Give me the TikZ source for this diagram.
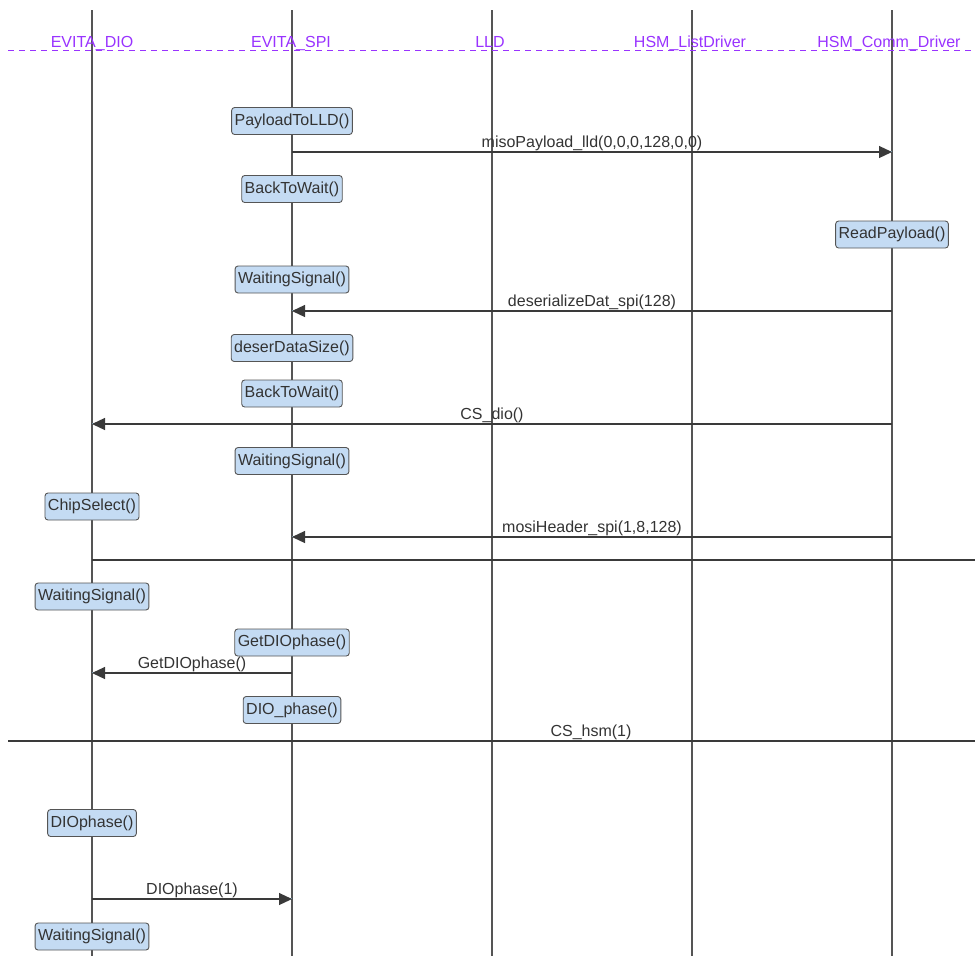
\documentclass[tikz,border=0pt]{standalone}
\usepackage{fontspec}
\setmainfont{Liberation Sans}
\usetikzlibrary{arrows.meta}
\definecolor{lifec}{HTML}{555555}
\definecolor{boxf}{HTML}{C4DBF3}
\definecolor{boxb}{HTML}{555555}
\definecolor{txt}{HTML}{333333}
\definecolor{hdrc}{HTML}{9933FF}
\definecolor{msgc}{HTML}{3A3A3A}
\definecolor{msghi}{HTML}{8DB6CF}
\tikzset{
  life/.style={draw=lifec, line width=1.3pt},
  act/.style={draw=boxb, fill=boxf, rounded corners=3pt, line width=0.9pt,
    minimum height=27pt, inner xsep=3pt, inner ysep=0pt,
    font=\fontsize{16}{18}\selectfont, text=txt},
  msg/.style={draw=msgc, line width=1.2pt,
    preaction={draw=msghi, line width=0.8pt, arrows=-, transform canvas={yshift=1pt}}},
  tip/.style={-{Triangle[length=13pt,width=12pt]}},
  lbl/.style={anchor=base, inner sep=0pt, text=txt, font=\fontsize{16}{18}\selectfont},
  hdr/.style={anchor=base, inner sep=0pt, text=hdrc, font=\fontsize{16}{18}\selectfont},
  hdrline/.style={draw=hdrc, line width=1pt, dash pattern=on 6pt off 5pt},
}
\begin{document}
\begin{tikzpicture}[x=1pt,y=-1pt]
\useasboundingbox (0,0) rectangle (975,956);
% lifelines
\coordinate (dioT) at (92,10);  \coordinate (dioB) at (92,956);
\coordinate (spiT) at (292,10); \coordinate (spiB) at (292,956);
\coordinate (lldT) at (492,10); \coordinate (lldB) at (492,956);
\coordinate (lstT) at (692,10); \coordinate (lstB) at (692,956);
\coordinate (comT) at (892,10); \coordinate (comB) at (892,956);
\draw[life] (dioT) -- (dioB);
\draw[life] (spiT) -- (spiB);
\draw[life] (lldT) -- (lldB);
\draw[life] (lstT) -- (lstB);
\draw[life] (comT) -- (comB);
% header
\coordinate (hl) at (8,50); \coordinate (hr) at (975,50);
\draw[hdrline] (hl) -- (hr);
\node[hdr] (hDIO) at (92,47) {EVITA\_DIO};
\node[hdr] (hSPI) at (291,47) {EVITA\_SPI};
\node[hdr] (hLLD) at (490,47) {LLD};
\node[hdr] (hLST) at (690,47) {HSM\_ListDriver};
\node[hdr] (hCOM) at (889,47) {HSM\_Comm\_Driver};
% activations
\node[act] (a1) at (292,121) {PayloadToLLD()};
\node[act] (a2) at (292,189) {BackToWait()};
\node[act] (a3) at (892,234.5) {ReadPayload()};
\node[act] (a4) at (292,279.5) {WaitingSignal()};
\node[act] (a5) at (292,348) {deserDataSize()};
\node[act] (a6) at (292,393.5) {BackToWait()};
\node[act] (a7) at (292,461) {WaitingSignal()};
\node[act] (a8) at (92,506.5) {ChipSelect()};
\node[act] (a9) at (92,596.5) {WaitingSignal()};
\node[act] (a10) at (292,642.5) {GetDIOphase()};
\node[act] (a11) at (292,710) {DIO\_phase()};
\node[act] (a12) at (92,823) {DIOphase()};
\node[act] (a13) at (92,936.5) {WaitingSignal()};
% message endpoints
\coordinate (m1a) at (292,152); \coordinate (m1b) at (892,152);
\coordinate (m2a) at (892,311); \coordinate (m2b) at (292,311);
\coordinate (m3a) at (892,424); \coordinate (m3b) at (92,424);
\coordinate (m4a) at (892,537); \coordinate (m4b) at (292,537);
\coordinate (m5a) at (92,560);  \coordinate (m5b) at (975,560);
\coordinate (m6a) at (292,673); \coordinate (m6b) at (92,673);
\coordinate (m7a) at (8,741);   \coordinate (m7b) at (975,741);
\coordinate (m8a) at (92,899);  \coordinate (m8b) at (292,899);
% messages
\draw[msg,tip] (m1a) -- (m1b) node[lbl, pos=0.5, yshift=4.5pt] (l1) {misoPayload\_lld(0,0,0,128,0,0)};
\draw[msg,tip] (m2a) -- (m2b) node[lbl, pos=0.5, yshift=4.5pt] (l2) {deserializeDat\_spi(128)};
\draw[msg,tip] (m3a) -- (m3b) node[lbl, pos=0.5, yshift=4.5pt] (l3) {CS\_dio()};
\draw[msg,tip] (m4a) -- (m4b) node[lbl, pos=0.5, yshift=4.5pt] (l4) {mosiHeader\_spi(1,8,128)};
\draw[msg] (m5a) -- (m5b);
\draw[msg,tip] (m6a) -- (m6b) node[lbl, pos=0.5, yshift=4.5pt] (l6) {GetDIOphase()};
\draw[msg] (m7a) -- (m7b);
\node[lbl] (l7) at (591,736.5) {CS\_hsm(1)};
\draw[msg,tip] (m8a) -- (m8b) node[lbl, pos=0.5, yshift=4.5pt] (l8) {DIOphase(1)};
\end{tikzpicture}
\end{document}
